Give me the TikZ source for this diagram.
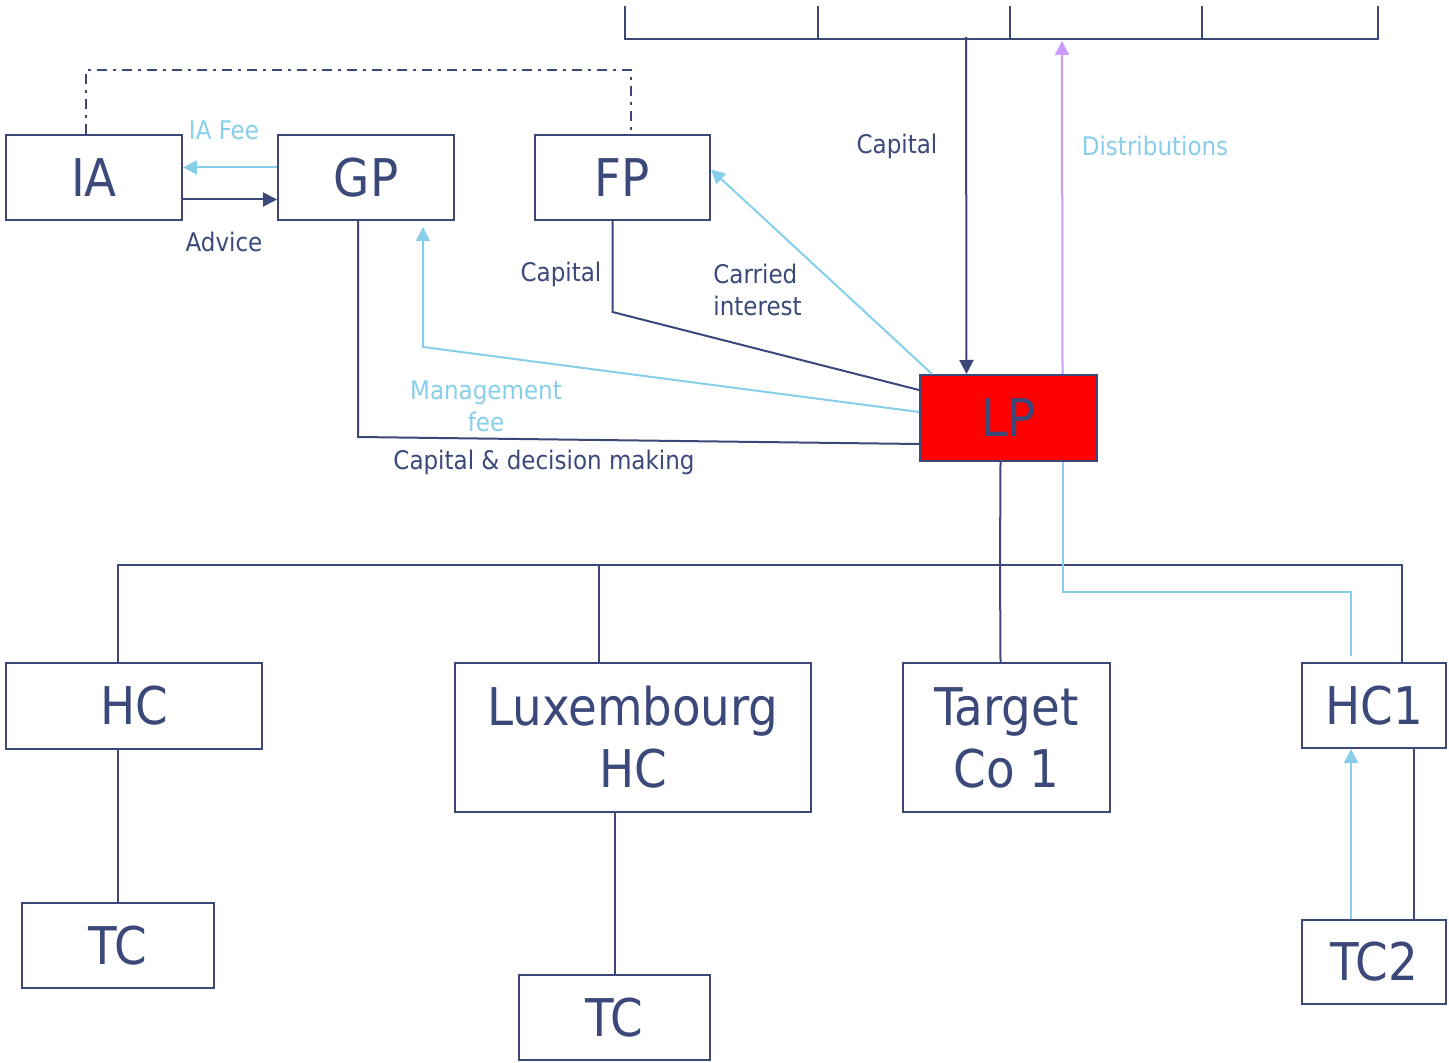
\documentclass[tikz,border=0pt]{standalone}
\usepackage{fontspec}
\setmainfont{DejaVu Sans Condensed}
\usetikzlibrary{arrows.meta}
\definecolor{navy}{RGB}{59,72,122}
\definecolor{sky}{RGB}{135,206,235}
\definecolor{lilac}{RGB}{204,153,255}
\begin{document}
\begin{tikzpicture}[
    x=0.5pt, y=-0.5pt,
    ent/.style={draw=navy, line width=1pt, text=navy, font=\fontsize{26}{31}\selectfont, align=center, inner sep=0pt},
    lbl/.style={font=\fontsize{12.8}{16}\selectfont, text=navy, inner sep=1pt},
    link/.style={draw=navy, line width=1pt},
    flow/.style={draw=sky, line width=1pt},
    tip/.style={-{Triangle[length=7pt, width=7pt]}},
  ]
    \useasboundingbox (0,0) rectangle (1449,1063);

    % investor bracket
    \draw[link] (625,6) -- (625,39) -- (1378,39) -- (1378,6);
    \foreach \xx in {818,1010,1202} \draw[link] (\xx,6) -- (\xx,39);
    \coordinate (capin) at (966,37);
    \coordinate (distout) at (1062,41);

    % upper entities
    \node[ent, minimum width=88pt, minimum height=42.5pt] (ia) at (94,177.5) {IA};
    \node[ent, minimum width=88pt, minimum height=42.5pt] (gp) at (366,177.5) {GP};
    \node[ent, minimum width=87.5pt, minimum height=42.5pt] (fp) at (622.5,177.5) {FP};
    \node[ent, fill=red, minimum width=88.5pt, minimum height=43pt] (lp) at (1008.5,418) {LP};

    % lower entities
    \node[ent, minimum width=128pt, minimum height=43pt] (hc) at (134,706) {HC};
    \node[ent, minimum width=178pt, minimum height=74.5pt] (lux) at (633,737.5) {Luxembourg\\HC};
    \node[ent, minimum width=103.5pt, minimum height=74.5pt] (tco) at (1006.5,737.5) {Target\\Co 1};
    \node[ent, minimum width=72pt, minimum height=42.5pt] (hc1) at (1374,705.5) {HC1};
    \node[ent, minimum width=96pt, minimum height=42.5pt] (tca) at (118,945.5) {TC};
    \node[ent, minimum width=95.5pt, minimum height=42.5pt] (tcb) at (614.5,1017.5) {TC};
    \node[ent, minimum width=72pt, minimum height=42pt] (tc2) at (1374,962) {TC2};

    % labels
    \node[lbl] (lcapin) at (897,146) {Capital};
    \node[lbl, text=sky] (ldist) at (1155,146) {Distributions};
    \node[lbl, text=sky] (lfee) at (224,130) {IA Fee};
    \node[lbl] (ladv) at (224,242) {Advice};
    \node[lbl] (lcapfp) at (561,274) {Capital};
    \node[lbl, anchor=west, align=left] (lcarry) at (711,290) {Carried\\interest};
    \node[lbl, text=sky, align=center] (lmgmt) at (486,406) {Management\\fee};
    \node[lbl] (lcapgp) at (544,462) {Capital \& decision making};

    % upper connectors
    \draw[link, dash pattern=on 5pt off 3pt on 1.5pt off 3pt] ([xshift=-4pt]ia.north) -- ++(0,-64) -| ([xshift=4pt]fp.north);
    \draw[flow, tip, color=sky] ([yshift=5pt]gp.west) -- ([yshift=5pt]ia.east);
    \draw[link, tip, color=navy] ([yshift=-11pt]ia.east) -- ([yshift=-11pt]gp.west);
    \draw[link, tip, color=navy] (capin) -- ([xshift=-21pt]lp.north);
    \draw[line width=1pt, color=lilac, tip] ([xshift=27pt]lp.north) -- (distout);
    \draw[flow, tip, color=sky] ([xshift=6.5pt]lp.north west) -- ([yshift=4pt]fp.east);
    \draw[link] ([xshift=-5pt]fp.south) -- ++(0,91) -- ([yshift=14pt]lp.west);
    \draw[flow, tip, color=sky] ([yshift=3pt]lp.west) -- (423,347) -- ([xshift=28.5pt,yshift=-3pt]gp.south);
    \draw[link] ([xshift=-4pt]gp.south) -- ++(0,216) -- ([yshift=-13pt]lp.west);

    % lower connectors
    \coordinate (bus) at (1000,565);
    \draw[link] ([xshift=-4pt]lp.south) -- (bus) -- ([xshift=-3pt]tco.north);
    \draw[link] ([xshift=-8pt]hc.north) |- (bus) -| ([xshift=14pt]hc1.north);
    \draw[link] ([xshift=-17pt]lux.north) -- ([xshift=-17pt]lux.north |- bus);
    \draw[flow] ([xshift=27pt]lp.south) -- ++(0,130) -| ([xshift=-11.5pt,yshift=3pt]hc1.north);
    \draw[link] (tca.north) -- (tca.north |- hc.south);
    \draw[link] (tcb.north) -- (tcb.north |- lux.south);
    \draw[flow, tip, color=sky] ([xshift=-11.5pt]tc2.north) -- ([xshift=-11.5pt]hc1.south);
    \draw[link] ([xshift=20pt]hc1.south) -- ([xshift=20pt]tc2.north);
  \end{tikzpicture}
\end{document}
